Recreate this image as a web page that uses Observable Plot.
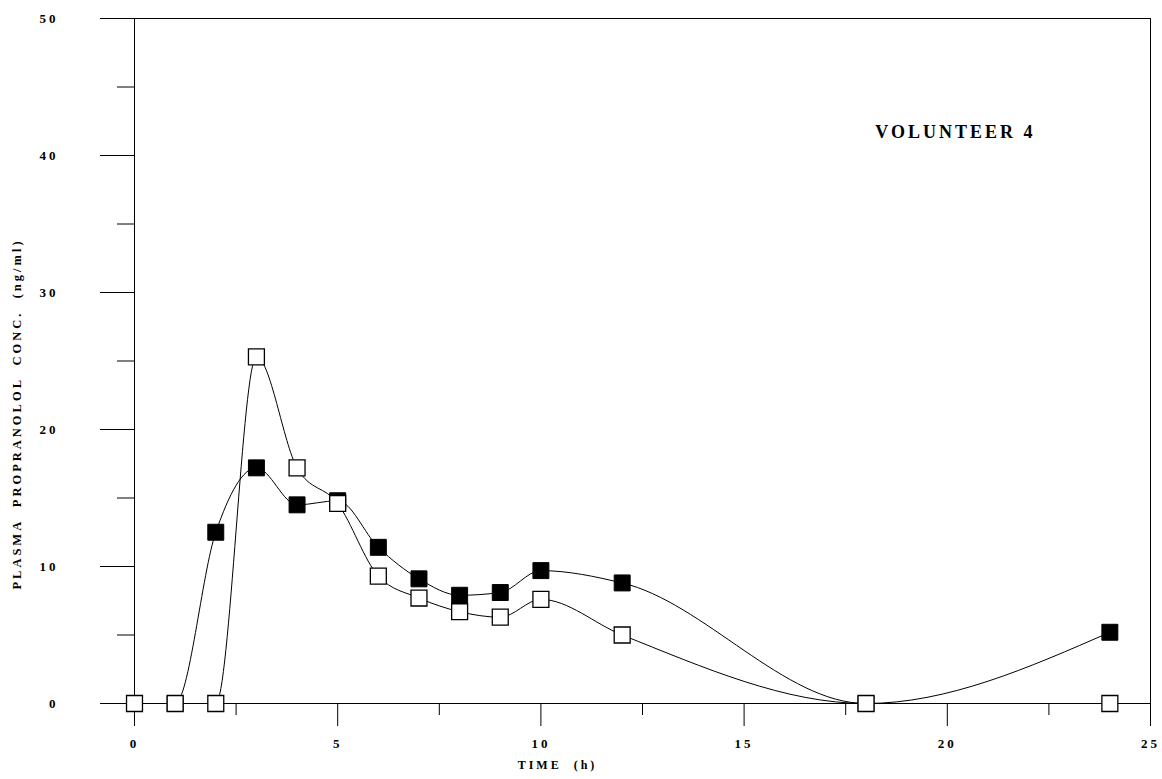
<!DOCTYPE html>
<html>
<head>
<meta charset="utf-8">
<script src="https://cdn.jsdelivr.net/npm/d3@7"></script>
<script src="https://cdn.jsdelivr.net/npm/@observablehq/plot@0.6"></script>
<style>
  html, body { margin: 0; padding: 0; background: #fff; }
  #chart svg { display: block; }
</style>
</head>
<body>
<div id="chart"></div>
<script>
// Sampling times (h)
const hours = [0, 1, 2, 3, 4, 5, 6, 7, 8, 9, 10, 12, 18, 24];
// Filled squares series (ng/ml)
const filledConc = [0, 0, 12.5, 17.2, 14.5, 14.8, 11.4, 9.1, 7.9, 8.1, 9.7, 8.8, 0, 5.2];
// Open squares series (ng/ml)
const openConc = [0, 0, 0, 25.3, 17.2, 14.6, 9.3, 7.7, 6.7, 6.3, 7.6, 5.0, 0, 0];
// Ticks
const xMajorTicks = [0, 5, 10, 15, 20, 25];
const xMinorTicks = [2.5, 7.5, 12.5, 17.5, 22.5];
const yMajorTicks = [0, 10, 20, 30, 40, 50];
const yMinorTicks = [5, 15, 25, 35, 45];
const panelTitle = "VOLUNTEER 4";
const xLabel = "TIME  (h)";
const yLabel = "PLASMA  PROPRANOLOL  CONC.  (ng/ml)";

const filled = hours.map((t, i) => ({t, c: filledConc[i]}));
const open = hours.map((t, i) => ({t, c: openConc[i]}));

const font = "'Liberation Serif', 'DejaVu Serif', serif";

const chart = Plot.plot({
  width: 1162,
  height: 779,
  marginLeft: 134,
  marginRight: 12,
  marginTop: 18,
  marginBottom: 76,
  style: {fontFamily: font, fontWeight: "bold", fontSize: "13px", color: "#000", background: "#fff", letterSpacing: "3px"},
  x: {domain: [0, 25]},
  y: {domain: [0, 50]},
  marks: [
    Plot.frame({stroke: "#000", strokeWidth: 1}),
    Plot.axisY({ticks: yMajorTicks, tickSize: 34, tickPadding: 42, tickFormat: d => d, label: null, stroke: "#000", strokeWidth: 1.2}),
    Plot.axisY({ticks: yMinorTicks, tickSize: 17, text: null, label: null, stroke: "#000"}),
    Plot.axisX({ticks: xMajorTicks, tickSize: 23, tickPadding: 12, tickFormat: d => d, label: null, stroke: "#000"}),
    Plot.axisX({ticks: xMinorTicks, tickSize: 12, text: null, label: null, stroke: "#000"}),
    Plot.text([xLabel], {frameAnchor: "bottom", dx: -85, dy: 65, text: d => d, fontSize: 12, fontWeight: "bold", letterSpacing: "3px"}),
    Plot.text([yLabel], {frameAnchor: "left", textAnchor: "middle", dx: -118, dy: 53, rotate: -90, text: d => d, fontSize: 12.5, fontWeight: "bold", letterSpacing: "3.7px"}),
    Plot.text([panelTitle], {frameAnchor: "top-right", dx: -115, dy: 107, textAnchor: "end", text: d => d, fontSize: 18, fontWeight: "bold", letterSpacing: "2.3px"}),
    Plot.line(filled, {x: "t", y: "c", curve: "monotone-x", stroke: "#000", strokeWidth: 1}),
    Plot.line(open, {x: "t", y: "c", curve: "monotone-x", stroke: "#000", strokeWidth: 1}),
    Plot.dot(filled, {x: "t", y: "c", symbol: "square", r: 9, fill: "#000", stroke: "#000", strokeWidth: 1}),
    Plot.dot(open, {x: "t", y: "c", symbol: "square", r: 9, fill: "#fff", stroke: "#000", strokeWidth: 1.3})
  ]
});
document.getElementById("chart").appendChild(chart);
</script>
</body>
</html>
